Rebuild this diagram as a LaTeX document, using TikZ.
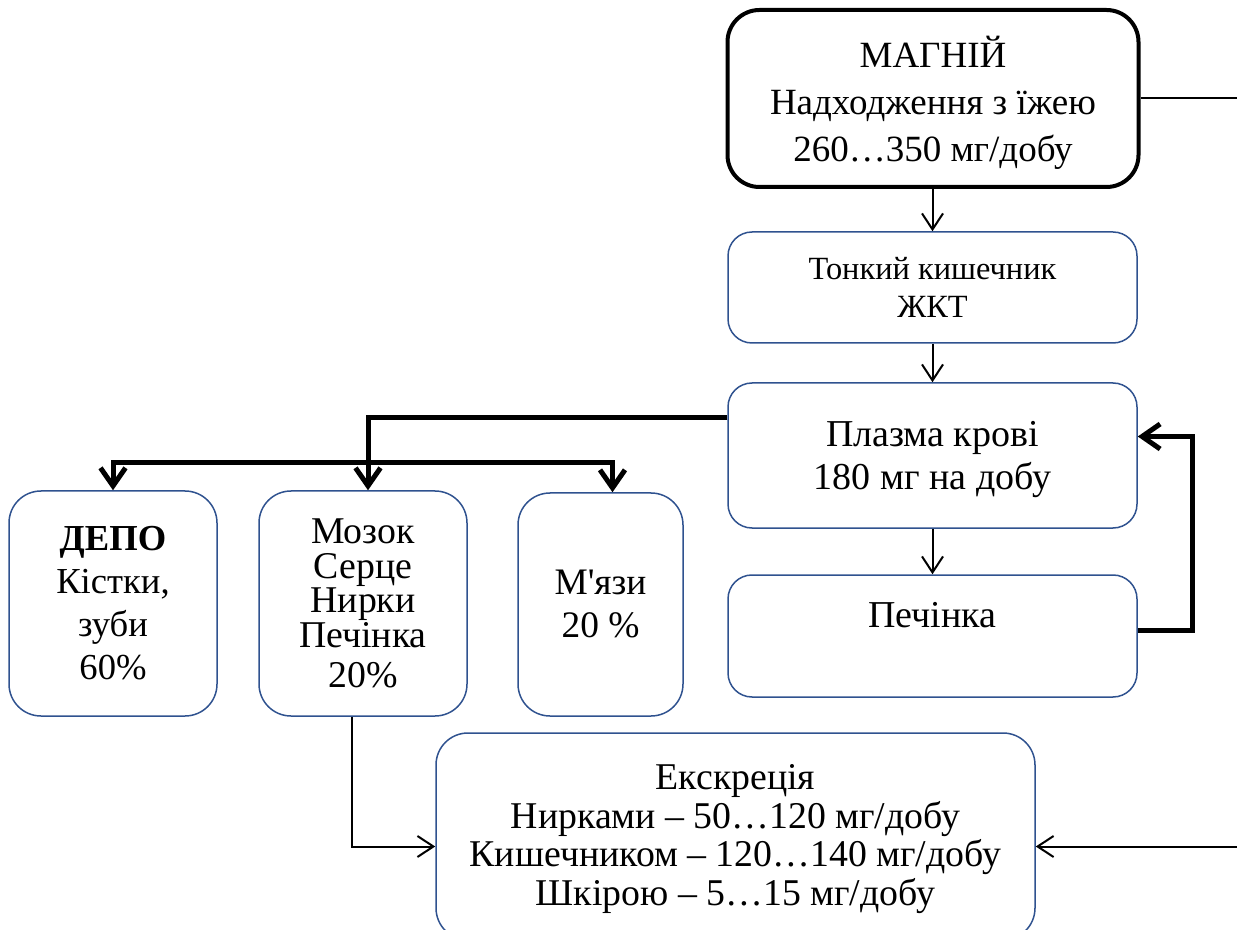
\documentclass[tikz,border=0pt]{standalone}
\usepackage{fontspec}
\setmainfont{Liberation Serif}[Ligatures=TeXOff]
\usetikzlibrary{arrows.meta,calc,positioning}
\definecolor{boxblue}{HTML}{2F528F}
\tikzset{
  blk/.style={draw=boxblue,line width=0.75pt,rounded corners=16pt,align=center,inner sep=0pt},
  rblk/.style={blk,rounded corners=12pt,minimum width=204.5pt}
}
\begin{document}
\begin{tikzpicture}[x=0.5pt,y=-0.5pt,
  lnk/.style={line width=1pt,-{Straight Barb[length=8pt,width=10.5pt]}},
  fat/.style={line width=2.5pt,-{Straight Barb[length=9pt,width=12.5pt]}}]
\useasboundingbox (0,0) rectangle (1237,930);
\clip (0,0) rectangle (1237,930);
\node[blk,draw=black,line width=2pt,minimum width=205.5pt,minimum height=88.5pt,text depth=-2pt,font=\fontsize{18.5}{23.5}\selectfont] (Mg) at (933,98.5) {МАГНІЙ\\Надходження з їжею\\260…350 мг/добу};
\node[rblk,minimum height=55.5pt,font=\fontsize{16.2}{19}\selectfont] (TK) at (932.5,287.5) {Тонкий кишечник\\ЖКТ};
\node[rblk,minimum height=72.5pt,text depth=-3.2pt,font=\fontsize{19}{21.5}\selectfont] (PK) at (932.5,455.5) {Плазма крові\\180 мг на добу};
\node[rblk,minimum height=61pt,text depth=21pt,font=\fontsize{19}{21}\selectfont] (Pch) at (932.5,636) {Печінка};
\node[blk,minimum width=104pt,minimum height=112.5pt,font=\fontsize{18.3}{21.5}\selectfont] (Dep) at (113,603.5) {\textbf{ДЕПО}\\Кістки,\\зуби\\60\%};
\node[blk,minimum width=104pt,minimum height=112.5pt,font=\fontsize{18.9}{17.25}\selectfont] (Moz) at (363,603.5) {Мозок\\Серце\\Нирки\\Печінка\\[2.75pt]20\%};
\node[blk,minimum width=82.5pt,minimum height=111.5pt,font=\fontsize{18.7}{21.5}\selectfont] (Mya) at (600.5,604.5) {М'язи\\20 \%};
\node[blk,minimum width=299.5pt,minimum height=103.5pt,text depth=1.5pt,font=\fontsize{18.9}{19.3}\selectfont] (Ek) at (735.5,836.5) {Екскреція\\Нирками – 50…120 мг/добу\\Кишечником – 120…140 мг/добу\\Шкірою – 5…15 мг/добу};
% main line
\draw[lnk] (TK.north |- Mg.south) -- (TK.north);
\draw[lnk] (TK.south) -- (PK.north);
\draw[lnk] (PK.south) -- (Pch.north);
% distribution
\coordinate (bus) at (368,463);
\draw[line width=2.5pt] ($(PK.west)+(0,-38)$) -| (bus);
\draw[fat] (bus) -| (Dep.north);
\draw[fat] (bus) -- (bus |- Moz.north);
\draw[fat] (bus) -| ($(Mya.north)+(12,0)$);
\draw[fat] ($(Pch.east)+(0,-6)$) -- ++(55,0) |- ($(PK.east)+(0,-19)$);
% excretion
\draw[lnk] ($(Moz.south)+(-11,0)$) |- ($(Ek.west)+(0,10)$);
\draw[lnk] (Mg.east) -- ++(130,0) |- ($(Ek.east)+(0,10)$);
\end{tikzpicture}
\end{document}
